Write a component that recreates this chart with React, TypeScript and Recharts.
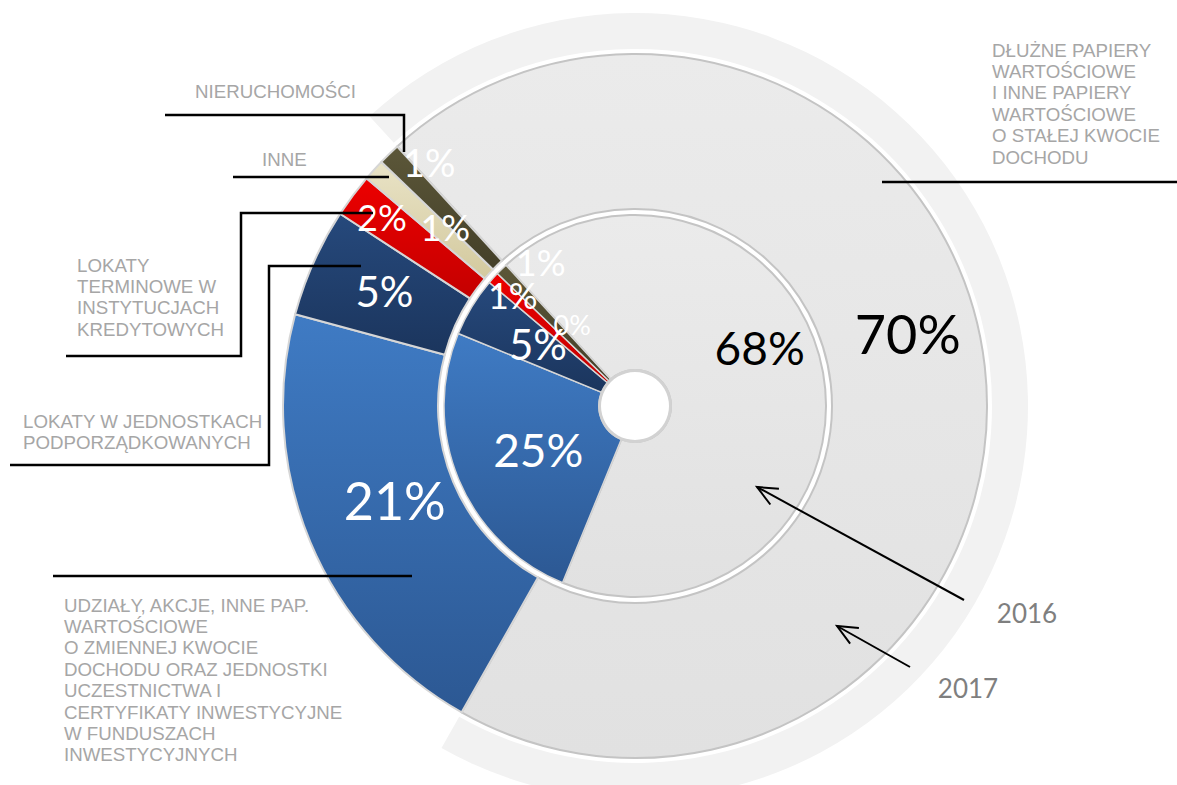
import React from 'react';
import { PieChart, Pie, Cell } from 'recharts';

// ---------- data ----------
const categories = [
  'DŁUŻNE PAPIERY WARTOŚCIOWE I INNE PAPIERY WARTOŚCIOWE O STAŁEJ KWOCIE DOCHODU',
  'UDZIAŁY, AKCJE, INNE PAP. WARTOŚCIOWE O ZMIENNEJ KWOCIE DOCHODU ORAZ JEDNOSTKI UCZESTNICTWA I CERTYFIKATY INWESTYCYJNE W FUNDUSZACH INWESTYCYJNYCH',
  'LOKATY W JEDNOSTKACH PODPORZĄDKOWANYCH',
  'LOKATY TERMINOWE W INSTYTUCJACH KREDYTOWYCH',
  'INNE',
  'NIERUCHOMOŚCI',
];
const values2017 = [70, 21, 5, 2, 1, 1];
const values2016 = [68, 25, 5, 1, 0, 1];
const yearLabels = ['2016', '2017'];

// wrapped label lines as shown in the picture
const labelLines: string[][] = [
  ['DŁUŻNE PAPIERY', 'WARTOŚCIOWE', 'I INNE PAPIERY', 'WARTOŚCIOWE', 'O STAŁEJ KWOCIE', 'DOCHODU'],
  ['UDZIAŁY, AKCJE, INNE PAP.', 'WARTOŚCIOWE', 'O ZMIENNEJ KWOCIE', 'DOCHODU ORAZ JEDNOSTKI', 'UCZESTNICTWA I', 'CERTYFIKATY INWESTYCYJNE', 'W FUNDUSZACH', 'INWESTYCYJNYCH'],
  ['LOKATY W JEDNOSTKACH', 'PODPORZĄDKOWANYCH'],
  ['LOKATY', 'TERMINOWE W', 'INSTYTUCJACH', 'KREDYTOWYCH'],
  ['INNE'],
  ['NIERUCHOMOŚCI'],
];

const data2017 = categories.map((name, i) => ({ name, value: values2017[i] }));
const data2016 = categories.map((name, i) => ({ name, value: values2016[i] }));
const holeData = [{ name: 'hole', value: 1 }];

// ---------- styles ----------
const W = 1177;
const H = 785;
const CX = 635;
const CY = 406;
const START = 132.5;
const gradIds = ['gGray', 'gBlue', 'gNavy', 'gRed', 'gCream', 'gOlive'];
const gradStops: [string, string][] = [
  ['#ebebeb', '#e1e1e1'],
  ['#3f7bc4', '#2c5893'],
  ['#26497c', '#1b355d'],
  ['#ec0000', '#c40000'],
  ['#e9e3c6', '#d3c99e'],
  ['#5c5739', '#433f28'],
];
const outerShift: [number, number][] = [[0, -41], [13, -12], [0, -3], [-33, -25], [14, 5], [-14, -48]];
const innerShift: [number, number][] = [[13, -39], [8, 0], [0, -3], [-38, -35], [19, -3], [-15, -63]];
const outerSizes = [54, 52, 42, 36, 36, 38];
const innerSizes = [46, 46, 42, 36, 27, 36];

const RAD = Math.PI / 180;
const makeLabel = (shift: [number, number][], sizes: number[]) => (props: any) => {
  const { cx, cy, midAngle, innerRadius, outerRadius, index, value } = props;
  const r = (innerRadius + outerRadius) / 2;
  const x = cx + r * Math.cos(-midAngle * RAD) + shift[index][0];
  const y = cy + r * Math.sin(-midAngle * RAD) + shift[index][1];
  return (
    <text
      key={`lbl-${index}`}
      x={x}
      y={y}
      textAnchor="middle"
      dominantBaseline="central"
      fill={index === 0 ? '#000000' : '#ffffff'}
      fontSize={sizes[index]}
      fontFamily="Lato, 'Open Sans', sans-serif"
    >
      {`${value}%`}
    </text>
  );
};

const catFont = "'Liberation Sans', Arial, sans-serif";
const catColor = '#a6a6a6';
const LH = 21.4;

// annotation layout (leader lines and text anchors)
const catTextPos: [number, number][] = [
  [992, 50],
  [64, 605],
  [23, 421],
  [77, 265],
  [262, 159],
  [195, 91],
];
const leaders: string[] = [
  'M882,182 L1177,182',
  'M53,576 L412,576',
  'M361,266 L269,266 L269,465 L10,465',
  'M373,213 L241,213 L241,356 L66,356',
  'M233,177 L389,177',
  'M165,115 L404,115 L404,152',
];
const arrows: [number, number, number, number][] = [
  [964, 600, 757, 487],
  [910, 667, 837, 626],
];
const yearPos: [number, number][] = [
  [1027, 613],
  [968, 688],
];

function arrowHead(x1: number, y1: number, x2: number, y2: number) {
  const a = Math.atan2(y1 - y2, x1 - x2);
  const len = 22;
  const s = 0.42;
  const p1 = [x2 + len * Math.cos(a + s), y2 + len * Math.sin(a + s)];
  const p2 = [x2 + len * Math.cos(a - s), y2 + len * Math.sin(a - s)];
  return `M${p1[0]},${p1[1]} L${x2},${y2} L${p2[0]},${p2[1]}`;
}

export default function App() {
  return (
    <div style={{ position: 'absolute', left: 0, top: 0, width: W, height: H, background: '#ffffff', overflow: 'hidden' }}>
      <PieChart width={W} height={H} margin={{ top: 0, right: 0, bottom: 0, left: 0 }}>
        <defs>
          {gradIds.map((id, i) => (
            <linearGradient key={id} id={id} x1="0" y1="0" x2="0" y2="1">
              <stop offset="0%" stopColor={gradStops[i][0]} />
              <stop offset="100%" stopColor={gradStops[i][1]} />
            </linearGradient>
          ))}
        </defs>
        {/* soft halo behind the largest slice */}
        <Pie
          data={data2017}
          dataKey="value"
          cx={CX}
          cy={CY}
          innerRadius={357}
          outerRadius={393}
          startAngle={START}
          endAngle={START - 360}
          isAnimationActive={false}
          stroke="none"
          label={false}
          labelLine={false}
        >
          {data2017.map((d, i) => (
            <Cell key={`h-${i}`} fill={i === 0 ? '#f2f2f2' : 'none'} />
          ))}
        </Pie>
        {/* 2017 outer ring */}
        <Pie
          data={data2017}
          dataKey="value"
          cx={CX}
          cy={CY}
          innerRadius={197}
          outerRadius={352}
          startAngle={START}
          endAngle={START - 360}
          isAnimationActive={false}
          labelLine={false}
          label={makeLabel(outerShift, outerSizes)}
        >
          {data2017.map((d, i) => (
            <Cell key={`o-${i}`} fill={`url(#${gradIds[i]})`} stroke={i === 0 ? '#c4c4c4' : '#d6d6d6'} strokeWidth={2} />
          ))}
        </Pie>
        {/* 2016 inner ring */}
        <Pie
          data={data2016}
          dataKey="value"
          cx={CX}
          cy={CY}
          innerRadius={36}
          outerRadius={191}
          startAngle={START}
          endAngle={START - 360}
          isAnimationActive={false}
          labelLine={false}
          label={makeLabel(innerShift, innerSizes)}
        >
          {data2016.map((d, i) => (
            <Cell key={`i-${i}`} fill={`url(#${gradIds[i]})`} stroke={i === 0 ? '#c4c4c4' : '#d6d6d6'} strokeWidth={i === 0 ? 2 : 1.5} />
          ))}
        </Pie>
        {/* rim of the centre hole */}
        <Pie
          data={holeData}
          dataKey="value"
          cx={CX}
          cy={CY}
          innerRadius={34}
          outerRadius={37}
          isAnimationActive={false}
          stroke="none"
          fill="#d2d2d2"
          label={false}
          labelLine={false}
        />
      </PieChart>
      <svg width={W} height={H} style={{ position: 'absolute', left: 0, top: 0, pointerEvents: 'none' }}>
        {leaders.map((d, i) => (
          <path key={`l-${i}`} d={d} fill="none" stroke="#000000" strokeWidth={2.5} />
        ))}
        {labelLines.map((lines, i) => (
          <text key={`c-${i}`} fontFamily={catFont} fontSize={18.7} fill={catColor}>
            {lines.map((ln, j) => (
              <tspan key={j} x={catTextPos[i][0]} y={catTextPos[i][1] + j * LH} dominantBaseline="central">
                {ln}
              </tspan>
            ))}
          </text>
        ))}
        {arrows.map(([x1, y1, x2, y2], i) => (
          <g key={`a-${i}`}>
            <path d={`M${x1},${y1} L${x2},${y2}`} stroke="#000000" strokeWidth={2} fill="none" />
            <path d={arrowHead(x1, y1, x2, y2)} stroke="#000000" strokeWidth={2} fill="none" />
          </g>
        ))}
        {yearLabels.map((y, i) => (
          <text
            key={`y-${i}`}
            x={yearPos[i][0]}
            y={yearPos[i][1]}
            textAnchor="middle"
            dominantBaseline="central"
            fontFamily="Lato, 'Open Sans', sans-serif"
            fontSize={26}
            fill="#7f7f7f"
          >
            {y}
          </text>
        ))}
      </svg>
    </div>
  );
}
